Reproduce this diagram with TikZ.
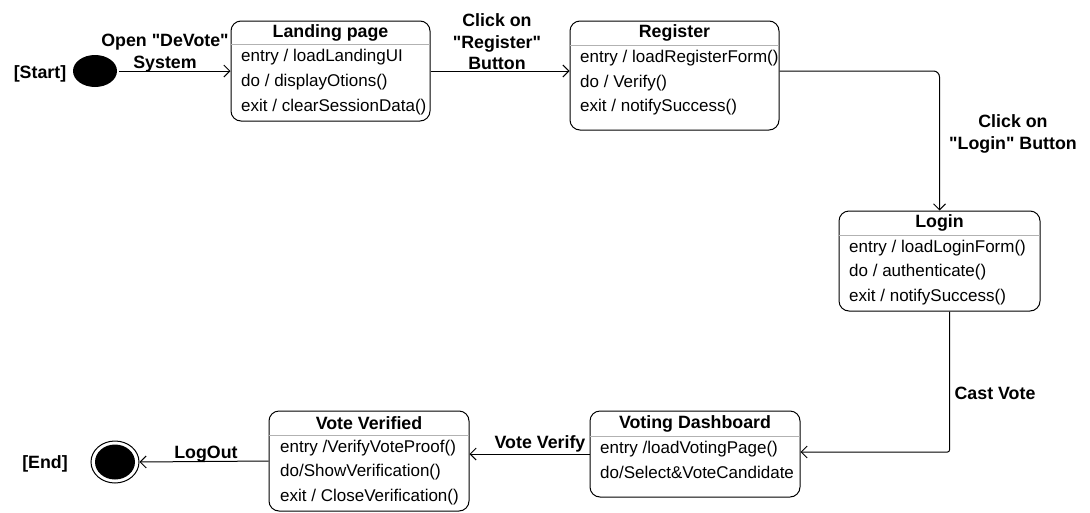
\documentclass[tikz,border=0pt]{standalone}
\usepackage{fontspec}
\setmainfont{Liberation Sans}[Ligatures=TeXOff]
\usetikzlibrary{arrows.meta,shapes.geometric}
\tikzset{
  statebox/.style={draw, line width=1pt, rounded corners=10pt, inner sep=0pt},
  ttl/.style={font=\fontsize{17.8}{20}\selectfont\bfseries, inner sep=0pt, yshift=-2pt},
  item/.style={font=\fontsize{17}{20}\selectfont, anchor=west, inner sep=0pt, yshift=-2pt},
  lbl/.style={font=\fontsize{17.8}{21.5}\selectfont\bfseries, align=center, inner sep=0pt, yshift=-2pt},
  sep/.style={draw=black!30, line width=1pt},
  arr/.style={draw, line width=1pt, -{Straight Barb[length=6pt,width=12pt,line width=1pt]}},
}
\begin{document}
\begin{tikzpicture}[x=1pt,y=-1pt]
\useasboundingbox (0,0) rectangle (1090,512);
% start / end
\node[ellipse, fill=black, minimum width=44pt, minimum height=32pt, inner sep=0pt] (start) at (95,71) {};
\node[lbl] (starttxt) at (40,72) {[Start]};
\node[ellipse, draw, line width=1pt, minimum width=48pt, minimum height=42pt, inner sep=0pt] (end) at (115,462) {};
\node[ellipse, fill=black, minimum width=40pt, minimum height=35pt, inner sep=0pt] (endin) at (115,462) {};
\node[lbl] (endtxt) at (45,462) {[End]};
% Landing page
\node[statebox, minimum width=199pt, minimum height=100pt] (landing) at (330.5,71) {};
\node[ttl] (landingT) at (330.5,31) {Landing page};
\draw[sep] (231,44) -- (430,44);
\node[item] (l1) at (241,55) {entry / loadLandingUI};
\node[item] (l2) at (241,80) {do / displayOtions()};
\node[item] (l3) at (241,105) {exit / clearSessionData()};
% Register
\node[statebox, minimum width=209pt, minimum height=109pt] (register) at (674.5,75.5) {};
\node[ttl] (registerT) at (674.5,31) {Register};
\draw[sep] (570,45) -- (779,45);
\node[item] (r1) at (580,56) {entry / loadRegisterForm()};
\node[item] (r2) at (580,81) {do / Verify()};
\node[item] (r3) at (580,105) {exit / notifySuccess()};
% Login
\node[statebox, minimum width=201pt, minimum height=100pt] (login) at (939.5,261) {};
\node[ttl] (loginT) at (939.5,221) {Login};
\draw[sep] (839,235) -- (1040,235);
\node[item] (g1) at (849,246) {entry / loadLoginForm()};
\node[item] (g2) at (849,270) {do / authenticate()};
\node[item] (g3) at (849,295) {exit / notifySuccess()};
% Voting Dashboard
\node[statebox, minimum width=210pt, minimum height=86pt] (voting) at (695,454) {};
\node[ttl] (votingT) at (695,422) {Voting Dashboard};
\draw[sep] (590,436) -- (800,436);
\node[item] (v1) at (600,447) {entry /loadVotingPage()};
\node[item] (v2) at (600,470) {do/Select\&VoteCandidate};
% Vote Verified
\node[statebox, minimum width=200pt, minimum height=100pt] (verified) at (369,461) {};
\node[ttl] (verifiedT) at (369,421) {Vote Verified};
\draw[sep] (269,435) -- (469,435);
\node[item] (f1) at (280,446) {entry /VerifyVoteProof()};
\node[item] (f2) at (280,470) {do/ShowVerification()};
\node[item] (f3) at (280,495) {exit / CloseVerification()};
% connectors
\draw[arr, shorten <=2pt] (start.east |- landing.west) -- (landing.west);
\node[lbl] (lab1) at (165,51) {Open "DeVote"\\System};
\draw[arr] (landing.east) -- (landing.east -| register.west);
\node[lbl] (lab2) at (497,40) {Click on\\"Register"\\Button};
\draw[arr, rounded corners=6pt] ([yshift=4.5pt]register.east) -| (login.north);
\node[lbl] (lab3) at (1013,132) {Click on\\"Login" Button};
\draw[arr, rounded corners=2pt] ([xshift=10pt]login.south) |- ([yshift=2pt]voting.east);
\node[lbl] (lab4) at (995,391) {Cast Vote};
\draw[arr] (voting.west) -- (voting.west -| verified.east);
\node[lbl] (lab5) at (540,442) {Vote Verify};
\draw[arr] (verified.west) -- (end.east);
\node[lbl] (lab6) at (206,452) {LogOut};
\end{tikzpicture}
\end{document}
